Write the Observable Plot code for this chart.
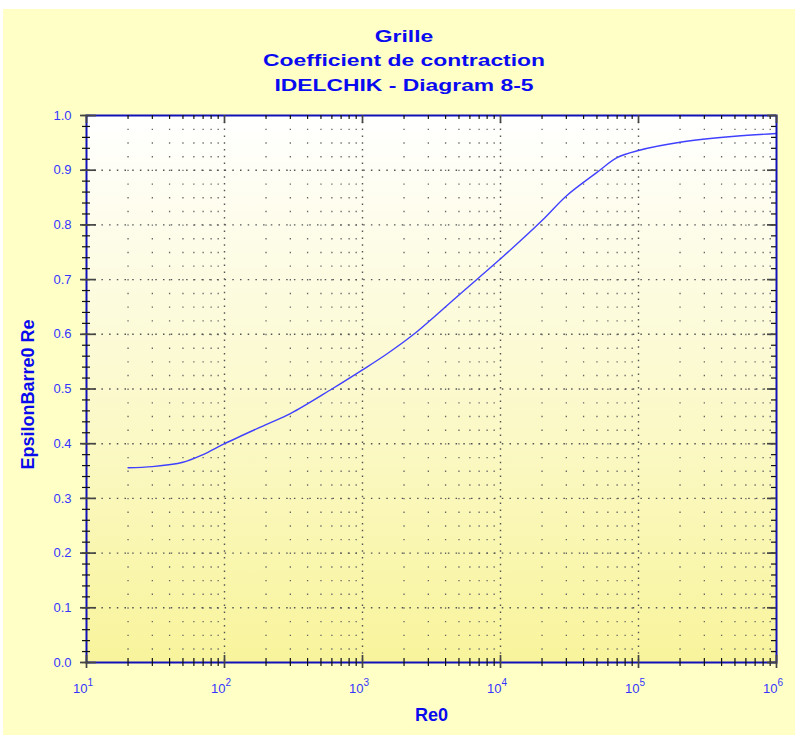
<!DOCTYPE html>
<html>
<head>
<meta charset="utf-8">
<script src="https://cdn.jsdelivr.net/npm/d3@7"></script>
<script src="https://cdn.jsdelivr.net/npm/@observablehq/plot@0.6"></script>
<style>
  body { margin: 0; background: #ffffff; width: 795px; height: 735px; overflow: hidden; position: relative;
         font-family: "Liberation Sans", Arial, sans-serif; }
  #panel { position: absolute; left: 3px; top: 9px; width: 792px; height: 726px; background: #ffffc6; }
  #chart { position: absolute; left: 0; top: 0; }
  #title { position: absolute; left: 9px; width: 790px; top: 24.6px; text-align: center; color: #0a0af0;
           font-weight: bold; font-size: 17px; line-height: 24.5px; }
  #title span { display: block; transform: scaleX(1.345); transform-origin: 50% 50%; }
</style>
</head>
<body>
<div id="panel"></div>
<svg width="0" height="0" style="position:absolute">
  <defs>
    <linearGradient id="plotbg" x1="0" y1="0" x2="0" y2="1">
      <stop offset="0" stop-color="#ffffff"/>
      <stop offset="1" stop-color="#f8f49c"/>
    </linearGradient>
  </defs>
</svg>
<div id="chart"></div>
<div id="title"><span>Grille</span><span>Coefficient de contraction</span><span>IDELCHIK - Diagram 8-5</span></div>
<script>
// ---- data ----
const reynolds = [20, 30, 50, 70, 100, 200, 300, 600, 1000, 1500, 2350, 5000, 7000, 10000, 20000, 30000, 50000, 70000, 100000, 200000, 500000, 1000000];
const epsilon  = [0.356, 0.358, 0.366, 0.380, 0.400, 0.435, 0.455, 0.500, 0.535, 0.564, 0.600, 0.672, 0.704, 0.738, 0.808, 0.853, 0.896, 0.923, 0.936, 0.951, 0.962, 0.967];

// ---- axes / ticks ----
const xMajor = [10, 100, 1000, 10000, 100000, 1000000];
const xTickBase = "10";
const xTickExponents = ["1", "2", "3", "4", "5", "6"];
const minorMultipliers = [2, 3, 4, 5, 6, 7, 8, 9];
const yMajor = [0, 0.1, 0.2, 0.3, 0.4, 0.5, 0.6, 0.7, 0.8, 0.9, 1.0];
const yTickLabels = ["0.0", "0.1", "0.2", "0.3", "0.4", "0.5", "0.6", "0.7", "0.8", "0.9", "1.0"];
const yMinorStep = 0.02;

const titleX = "Re0";
const titleY = "EpsilonBarre0 Re";

const xMinor = xMajor.slice(0, -1).flatMap(d => minorMultipliers.map(m => m * d));
const yMinor = d3.range(0, 51).map(i => +(i * yMinorStep).toFixed(2));

const data = reynolds.map((r, i) => ({re: r, eps: epsilon[i]}));

// layout
const W = 795, H = 735, mT = 115, mB = 73, mL = 86, mR = 19;
const plotH = H - mT - mB, plotW = W - mL - mR;

const labelBlue = "#3535ff";
const titleBlue = "#0a0aee";
const minorTick = {stroke: "#111", strokeWidth: 1.2};
const majorTick = {stroke: "#444", strokeWidth: 1.7};

const chart = Plot.plot({
  width: W, height: H,
  marginTop: mT, marginBottom: mB, marginLeft: mL, marginRight: mR,
  style: {background: "transparent", fontFamily: "Liberation Sans, Arial, sans-serif", overflow: "visible"},
  x: {type: "log", domain: [10, 1e6], label: null, axis: null},
  y: {domain: [0, 1], label: null, axis: null},
  marks: [
    Plot.frame({fill: "url(#plotbg)"}),
    // grid
    Plot.ruleX(xMinor, {stroke: "#666", strokeWidth: 1.3, strokeDasharray: "1.4,12.275"}),
    Plot.ruleX(xMajor.slice(1, -1), {stroke: "#555", strokeWidth: 1.4, strokeDasharray: "1.5,5.3"}),
    Plot.ruleY(yMajor.slice(1, -1), {stroke: "#555", strokeWidth: 1.4, strokeDasharray: "1.5,6.2"}),
    // curve
    Plot.line(data, {x: "re", y: "eps", curve: "catmull-rom", stroke: "#4040ff", strokeWidth: 1.4}),
    // frame (axis lines)
    Plot.frame({stroke: "#1212b8", strokeWidth: 2}),
    // x tick labels 10^n
    Plot.text(xMajor, {x: d => d, text: () => xTickBase, frameAnchor: "bottom", lineAnchor: "top", textAnchor: "end",
                       dx: 1, dy: 21.5, fontSize: 13, fill: labelBlue}),
    Plot.text(xMajor, {x: d => d, text: (d, i) => xTickExponents[i], frameAnchor: "bottom", lineAnchor: "top", textAnchor: "start",
                       dx: 1, dy: 16, fontSize: 10, fill: labelBlue}),
    // y tick labels
    Plot.text(yMajor, {y: d => d, text: (d, i) => yTickLabels[i], frameAnchor: "left", textAnchor: "end", lineAnchor: "middle",
                       dx: -15, fontSize: 13, fill: labelBlue}),
    // axis titles
    Plot.text([titleX], {frameAnchor: "bottom", lineAnchor: "middle", textAnchor: "middle", dy: 53,
                         fontSize: 18, fontWeight: "bold", fill: titleBlue}),
    Plot.text([titleY], {frameAnchor: "left", lineAnchor: "middle", textAnchor: "middle", dx: -58, dy: 5.5, rotate: -90,
                         fontSize: 18, fontWeight: "bold", fill: titleBlue}),
    // bottom ticks (cross the axis)
    Plot.ruleX(xMinor, {insetTop: plotH - 4, insetBottom: -4, ...minorTick}),
    Plot.ruleX(xMajor, {insetTop: plotH - 7, insetBottom: -6, ...majorTick}),
    // left ticks (cross the axis)
    Plot.ruleY(yMinor, {insetLeft: -4, insetRight: plotW - 4, ...minorTick}),
    Plot.ruleY(yMajor, {insetLeft: -6, insetRight: plotW - 10, ...majorTick}),
    // top ticks (inward)
    Plot.ruleX(xMinor, {insetTop: 0, insetBottom: plotH - 4, ...minorTick}),
    Plot.ruleX(xMajor, {insetTop: 0, insetBottom: plotH - 8, ...majorTick}),
    // right ticks (inward)
    Plot.ruleY(yMinor, {insetLeft: plotW - 5, insetRight: 0, ...minorTick}),
    Plot.ruleY(yMajor, {insetLeft: plotW - 9, insetRight: 0, ...majorTick})
  ]
});
document.getElementById("chart").appendChild(chart);
</script>
</body>
</html>
